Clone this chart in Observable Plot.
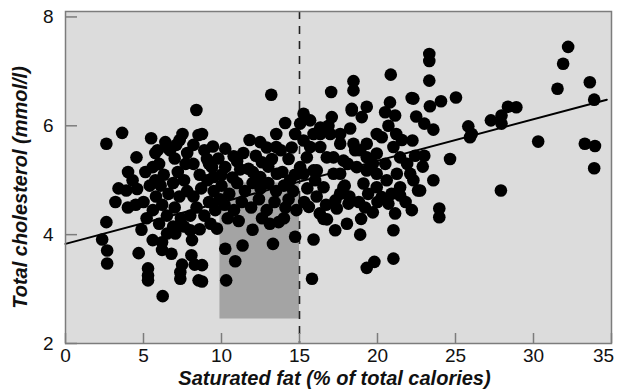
<!DOCTYPE html>
<html>
<head>
<meta charset="utf-8">
<script src="https://cdn.jsdelivr.net/npm/d3@7"></script>
<script src="https://cdn.jsdelivr.net/npm/@observablehq/plot@0.6"></script>
<style>
  html, body { margin: 0; padding: 0; background: #fff; }
</style>
</head>
<body>
<div id="chart"></div>
<script>
// Saturated fat (% of total calories) for each subject
const fat = [
  2.62,3.63,5.49,8.39,4.55,5.76,6.57,7.32,8.53,4.01,3.90,5.12,5.59,5.76,4.59,
  2.62,2.35,2.67,2.67,4.87,4.69,5.29,5.29,5.29,6.23,7.36,7.36,7.47,8.53,8.28,8.07,6.79,6.19,5.59,6.19,6.51,7.04,8.11,8.0,
  10.3,10.88,11.35,10.24,13.3,14.72,13.66,14.1,15.9,15.8,11.99,9.71,8.75,8.75,17.29,16.54,
  13.19,17.03,15.26,14.08,15.04,13.51,14.72,11.8,12.48,13.51,8.75,9.45,10.24,10.78,9.07,9.39,10.24,9.49,11.73,12.59,13.23,14.3,15.04,15.68,16.33,16.86,16.75,16.11,17.18,12.48,13.55,14.4,
  23.32,23.32,20.85,23.32,18.46,18.46,22.19,25.03,24.07,23.36,20.8,19.31,18.35,20.49,21.13,22.48,23.0,23.58,25.82,25.93,24.65,23.58,22.24,21.56,21.02,22.41,23.0,20.27,19.31,18.57,18.25,17.61,
  32.22,31.9,31.54,33.61,33.89,30.3,33.29,33.94,33.89,27.91,27.27,27.95,28.36,28.9,27.95,26.04,
  18.14,17.39,19.7,18.95,18.04,18.89,20.7,21.13,21.02,21.02,19.8,19.31,23.96,23.96,20.27,21.45,22.6,17.3,16.3,15.6,16.76,
  17.07,18.35,18.99,20.7,22.3,21.2,21.45,22.1,15.26,15.9,16.33,16.97,17.61,16.33,15.47,17.18,17.82,18.46,18.89,19.31,19.95,18.67,19.31,19.95,17.61,15.9,15.26,16.54,17.82,19.1,19.95,20.59,21.24,21.45,22.3,22.73,15.68,19.95,
  10.0,10.5,11.0,11.5,12.0,12.5,13.0,13.5,14.0,14.6,10.2,10.8,11.3,11.9,12.4,12.9,13.4,14.3,14.8,10.4,11.1,12.6,13.1,14.0,10.0,10.7,11.2,12.0,13.0,13.9,14.7,11.0,12.2,13.8,14.5,12.9,11.4,
  6.0,6.3,6.1,6.6,6.2,6.5,6.0,7.0,7.2,6.9,7.3,7.0,7.4,7.8,7.7,8.2,8.6,8.7,8.2,7.8,8.4,8.0,8.9,9.2,9.5,9.1,9.6,9.9,8.9,9.8,7.6,6.7,5.4,5.0,5.6,4.5,4.0,5.2,5.8,3.4,3.2,4.3,6.9,7.6,9.3,8.6,5.9,6.4,7.5,8.2,7.1,9.2,
  17.6,18.2,18.8,19.4,20.0,20.9,21.8,22.2,19.2,17.9,16.1,16.7,15.5,15.3,16.0,22.9,21.9,20.5,19.7,18.1
];
// Total cholesterol (mmol/l) for each subject
const chol = [
  5.67,5.87,5.77,6.29,5.42,5.50,5.59,5.74,5.83,5.15,4.81,5.15,5.24,5.0,4.84,
  4.23,3.91,3.71,3.47,4.09,3.66,3.38,3.25,3.16,2.87,3.19,3.31,3.45,3.16,3.45,3.62,3.65,3.72,3.90,3.86,4.02,4.02,3.90,4.08,
  3.16,3.51,3.8,3.74,3.83,3.96,4.23,4.5,3.91,3.19,4.09,4.11,3.14,3.44,4.08,4.29,
  6.57,6.62,6.22,6.05,6.04,5.85,5.85,5.74,5.70,5.61,5.85,5.62,5.58,5.44,5.39,5.24,5.24,5.06,5.21,5.33,5.39,5.39,5.24,5.61,5.85,6.0,5.42,5.18,5.12,5.06,5.12,5.0,
  7.32,7.19,6.94,6.83,6.82,6.65,6.51,6.52,6.45,6.36,6.43,6.35,6.28,6.25,6.19,6.17,6.04,5.93,5.99,5.79,5.39,5.0,5.73,5.74,5.61,5.45,5.45,5.79,5.67,5.55,5.95,5.85,
  7.45,7.14,6.68,6.8,6.48,5.71,5.67,5.63,5.22,4.81,6.1,6.19,6.35,6.34,6.04,5.85,
  4.57,4.48,4.41,4.29,4.2,4.0,4.57,4.39,4.08,3.56,3.5,3.39,4.48,4.32,4.69,4.72,4.81,4.63,4.39,4.51,4.28,
  6.16,6.31,6.16,6.0,6.5,5.85,5.42,5.12,5.73,5.85,5.97,5.85,5.67,5.61,5.42,5.42,5.36,5.67,5.55,5.42,5.49,5.24,5.18,5.12,5.12,5.18,5.12,4.87,4.87,4.94,4.87,5.0,5.12,4.87,5.0,4.81,6.1,5.85,
  4.9,4.75,4.95,4.8,4.95,4.85,4.95,4.8,4.9,4.8,4.55,4.45,4.6,4.5,4.65,4.45,4.6,4.65,4.45,4.3,4.25,4.3,4.2,4.3,5.1,5.05,5.2,5.15,5.25,5.15,5.1,5.35,5.45,5.55,5.6,5.6,5.5,
  5.3,5.1,4.9,4.75,4.55,4.35,4.2,5.4,5.15,4.95,4.7,4.5,4.3,5.5,5.3,5.3,5.1,4.85,4.7,4.8,4.5,4.35,4.35,4.6,4.8,5.0,4.45,4.65,5.55,5.4,5.0,5.55,4.9,4.6,4.45,4.55,4.5,4.3,4.7,4.85,4.6,5.0,4.15,4.15,4.2,4.1,5.55,5.7,5.85,5.65,5.65,5.3,
  4.75,4.7,4.6,4.75,4.6,4.75,4.6,4.45,4.5,4.9,4.7,4.55,4.85,4.6,5.0,5.25,5.3,5.3,5.3,5.3
];
// Fitted regression line end points
const fitFat = [0, 34.7];
const fitChol = [3.83, 6.48];
// Shaded reference box and cut-off
const shadeFat = [9.9, 15];
const shadeChol = [2.45, 4.95];
const cutoff = [15];
// Axis ticks and titles
const xTicks = [0, 5, 10, 15, 20, 25, 30, 35];
const yTicks = [2, 4, 6, 8];
const xDomain = [0, 35];
const yDomain = [2, 8.1];
const xTitle = ["Saturated fat (% of total calories)"];
const yTitle = ["Total cholesterol (mmol/l)"];

const points = fat.map((f, i) => ({fat: f, chol: chol[i]}));
const fit = fitFat.map((f, i) => ({fat: f, chol: fitChol[i]}));
const shade = [{x1: shadeFat[0], x2: shadeFat[1], y1: shadeChol[0], y2: shadeChol[1]}];

const W = 617, H = 392;
const M = {top: 11, right: 6, bottom: 49, left: 65};
const plotW = W - M.left - M.right, plotH = H - M.top - M.bottom;
const xTickLen = 10 * (yDomain[1] - yDomain[0]) / plotH;
const yTickLen = 12 * (xDomain[1] - xDomain[0]) / plotW;
const axisGray = "#7c7c7c";
const lastX = xTicks[xTicks.length - 1];

const chart = Plot.plot({
  width: W, height: H,
  marginTop: M.top, marginRight: M.right, marginBottom: M.bottom, marginLeft: M.left,
  style: {fontFamily: "'Liberation Sans', Arial, sans-serif", fontSize: "19px", background: "#fff", color: "#111"},
  x: {domain: xDomain, ticks: xTicks.filter(d => d !== lastX), tickSize: 0, tickPadding: 5, label: null, tickFormat: d3.format("d")},
  y: {domain: yDomain, ticks: yTicks, tickSize: 0, tickPadding: 12, label: null, tickFormat: d3.format("d")},
  marks: [
    Plot.frame({fill: "#dcdcdc", stroke: null}),
    Plot.rect(shade, {x1: "x1", x2: "x2", y1: "y1", y2: "y2", fill: "#a4a4a4"}),
    Plot.ruleX(cutoff, {x: d => d, stroke: "#222", strokeWidth: 1.6, strokeDasharray: "8,7"}),
    Plot.dot(points, {x: "fat", y: "chol", r: 6.3, fill: "#000", stroke: null}),
    Plot.line(fit, {x: "fat", y: "chol", stroke: "#000", strokeWidth: 2}),
    Plot.frame({stroke: axisGray, strokeWidth: 1.5}),
    Plot.ruleX(xTicks, {x: d => d, y1: yDomain[0], y2: yDomain[0] + xTickLen, stroke: axisGray, strokeWidth: 1.5}),
    Plot.ruleY(yTicks, {y: d => d, x1: xDomain[0], x2: xDomain[0] + yTickLen, stroke: axisGray, strokeWidth: 1.5}),
    Plot.text([lastX], {x: d => d, text: d => String(d), frameAnchor: "bottom", lineAnchor: "top", dy: 5, dx: -8, fontSize: 19, fill: "#111"}),
    Plot.text(xTitle, {text: d => d, frameAnchor: "bottom", textAnchor: "middle", dy: 41, dx: -4, fontSize: 20, fontWeight: "bold", fontStyle: "italic", fill: "#111"}),
    Plot.text(yTitle, {text: d => d, frameAnchor: "left", textAnchor: "middle", rotate: -90, dx: -45, dy: 10, fontSize: 20, fontWeight: "bold", fontStyle: "italic", fill: "#111"})
  ]
});
document.getElementById("chart").appendChild(chart);
</script>
</body>
</html>
